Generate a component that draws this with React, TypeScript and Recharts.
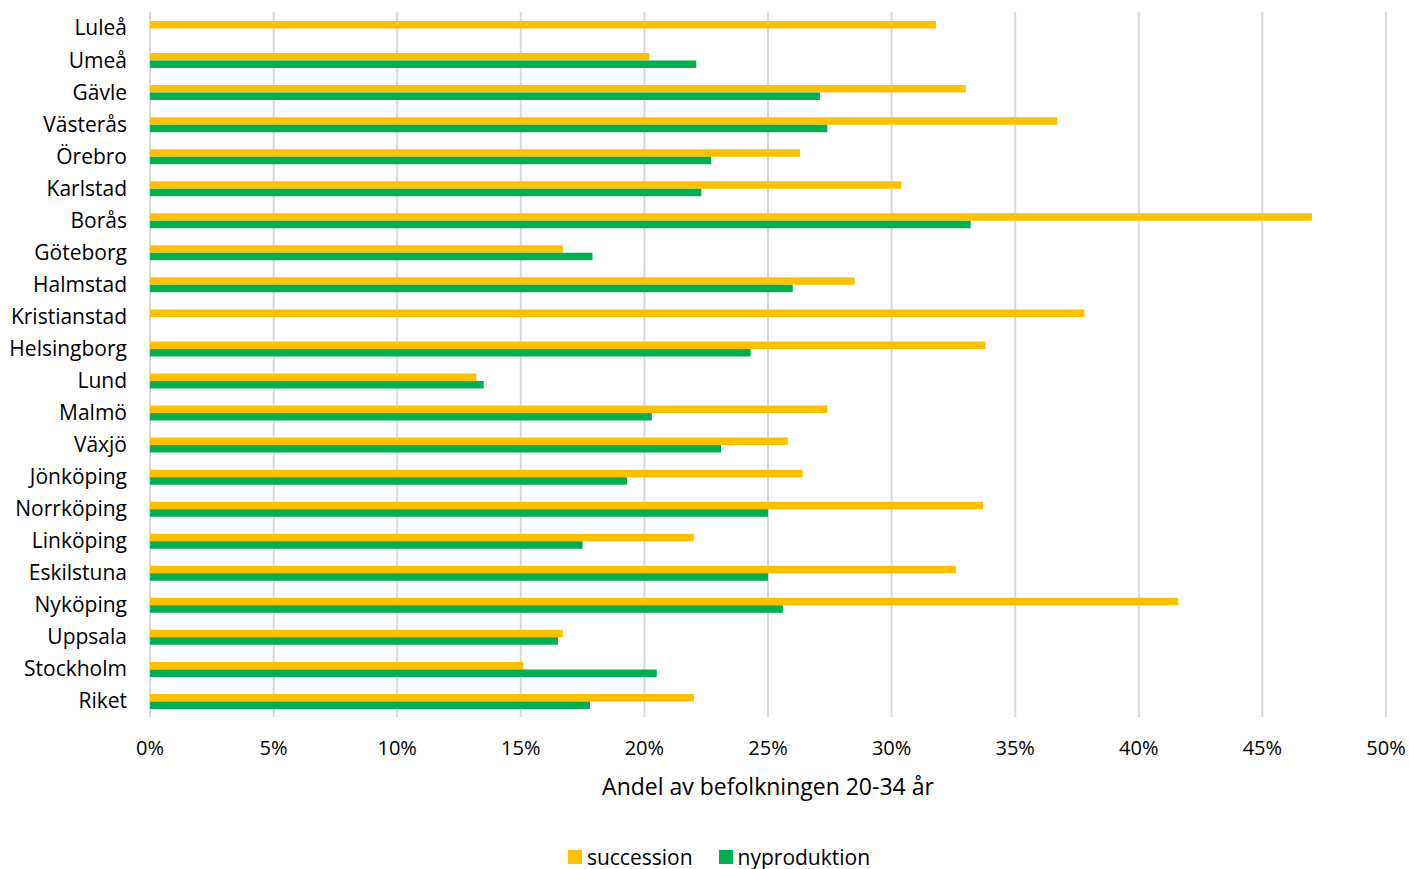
import React from "react"
import {
  BarChart,
  Bar,
  XAxis,
  YAxis,
  CartesianGrid,
  Legend,
} from "recharts"

const cities = [
  "Luleå", "Umeå", "Gävle", "Västerås", "Örebro", "Karlstad", "Borås",
  "Göteborg", "Halmstad", "Kristianstad", "Helsingborg", "Lund", "Malmö",
  "Växjö", "Jönköping", "Norrköping", "Linköping", "Eskilstuna", "Nyköping",
  "Uppsala", "Stockholm", "Riket",
]

// andel i procent, null = saknas
const succession = [
  31.8, 20.2, 33.0, 36.7, 26.3, 30.4, 47.0, 16.7, 28.5, 37.8, 33.8, 13.2,
  27.4, 25.8, 26.4, 33.7, 22.0, 32.6, 41.6, 16.7, 15.1, 22.0,
]
const nyproduktion = [
  null, 22.1, 27.1, 27.4, 22.7, 22.3, 33.2, 17.9, 26.0, null, 24.3, 13.5,
  20.3, 23.1, 19.3, 25.0, 17.5, 25.0, 25.6, 16.5, 20.5, 17.8,
]

const ticks = [0, 5, 10, 15, 20, 25, 30, 35, 40, 45, 50]

const YELLOW = "#FFC000"
const GREEN = "#00B050"
const FONT = "'Open Sans', sans-serif"

const data = cities.map((name, i) => ({
  name,
  succession: succession[i],
  nyproduktion: nyproduktion[i],
}))

function LegendRow() {
  const item = (color: string, label: string) => (
    <span style={{ display: "inline-flex", alignItems: "center", margin: "0 13px" }}>
      <span style={{ width: 14, height: 14, background: color, marginRight: 5 }} />
      <span>{label}</span>
    </span>
  )
  return (
    <div style={{ textAlign: "center", fontFamily: FONT, fontSize: 21, color: "#000", marginLeft: 52 }}>
      {item(YELLOW, "succession")}
      {item(GREEN, "nyproduktion")}
    </div>
  )
}

export default function App() {
  return (
    <div style={{ position: "absolute", left: 0, top: 0, background: "#fff" }}>
      <BarChart
        width={1409}
        height={869}
        data={data}
        layout="vertical"
        barGap={0}
        barSize={7.5}
        margin={{ top: 12, right: 23, bottom: 0, left: 0 }}
      >
        <CartesianGrid horizontal={false} stroke="#d9d9d9" strokeWidth={2} />
        <XAxis
          type="number"
          domain={[0, 50]}
          ticks={ticks}
          tickFormatter={(v: number) => `${v}%`}
          axisLine={false}
          tickLine={false}
          tickMargin={18}
          height={118}
          tick={{ fill: "#000", fontSize: 20, fontFamily: FONT }}
          label={{
            value: "Andel av befolkningen 20-34 år",
            position: "insideTop",
            offset: 62,
            fill: "#000",
            fontSize: 23,
            fontFamily: FONT,
          }}
        />
        <YAxis
          type="category"
          dataKey="name"
          width={150}
          axisLine={false}
          tickLine={false}
          tickMargin={17}
          interval={0}
          tick={{ fill: "#000", fontSize: 21, fontFamily: FONT }}
        />
        <Legend
          verticalAlign="bottom"
          height={34}
          wrapperStyle={{ bottom: -7 }}
          content={() => <LegendRow />}
        />
        <Bar dataKey="succession" fill={YELLOW} isAnimationActive={false} />
        <Bar dataKey="nyproduktion" fill={GREEN} isAnimationActive={false} />
      </BarChart>
    </div>
  )
}
